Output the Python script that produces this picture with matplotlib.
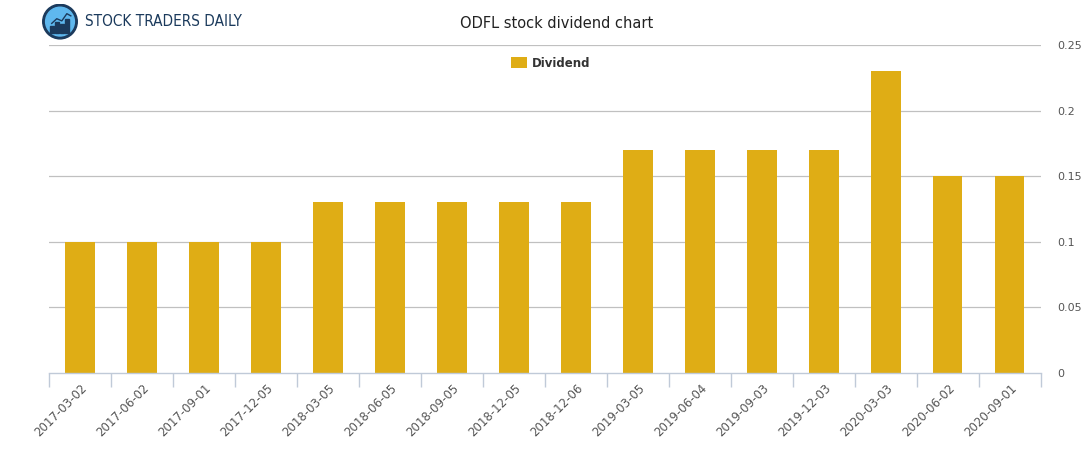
import matplotlib
matplotlib.use("Agg")
import matplotlib.pyplot as plt
from matplotlib.patches import Circle, Rectangle

# dates de paiement et montants
dates = ["2017-03-02", "2017-06-02", "2017-09-01", "2017-12-05", "2018-03-05",
         "2018-06-05", "2018-09-05", "2018-12-05", "2018-12-06", "2019-03-05",
         "2019-06-04", "2019-09-03", "2019-12-03", "2020-03-03", "2020-06-02",
         "2020-09-01"]
dividend = [0.10, 0.10, 0.10, 0.10, 0.13, 0.13, 0.13, 0.13, 0.13, 0.17,
            0.17, 0.17, 0.17, 0.23, 0.15, 0.15]
yticks = [0, 0.05, 0.1, 0.15, 0.2, 0.25]
ytick_labels = ["0", "0.05", "0.1", "0.15", "0.2", "0.25"]

bar_color = "#DFAD15"
grid_color = "#C0C0C0"
axis_color = "#C0CAD8"
text_color = "#555555"

fig = plt.figure(figsize=(10.91, 4.5), dpi=100)
ax = fig.add_axes([0.0449, 0.171, 0.9092, 0.729])

x = list(range(len(dates)))
ax.bar(x, dividend, width=0.47, color=bar_color, label="Dividend", zorder=2)

ax.set_xlim(-0.5, len(dates) - 0.5)
ax.set_ylim(0, 0.25)

# axe y a droite
ax.yaxis.tick_right()
ax.set_yticks(yticks)
ax.set_yticklabels(ytick_labels, fontsize=8, color=text_color)
ax.tick_params(axis="y", length=0, pad=12)
for y in yticks[1:]:
    ax.axhline(y, color=grid_color, lw=0.9, zorder=1)

# ticks x aux frontieres des categories
ax.set_xticks([i - 0.5 for i in range(len(dates) + 1)])
ax.set_xticklabels([])
ax.set_xticks(x, minor=True)
ax.set_xticklabels(dates, minor=True, rotation=45, ha="right", va="top",
                   rotation_mode="anchor", fontsize=8.5, color=text_color)
ax.tick_params(axis="x", which="major", length=10, color=axis_color, width=1)
ax.tick_params(axis="x", which="minor", length=0, pad=6)

for s in ["top", "left", "right"]:
    ax.spines[s].set_visible(False)
ax.spines["bottom"].set_color(axis_color)
ax.spines["bottom"].set_linewidth(1)

leg = ax.legend(loc="upper center", bbox_to_anchor=(0.506, 0.997), frameon=False,
                handlelength=1.3, handleheight=1.0, handletextpad=0.45,
                prop={"weight": "bold", "size": 8.5})
for t in leg.get_texts():
    t.set_color("#333333")

fig.text(0.51, 0.948, "ODFL stock dividend chart", ha="center", va="center",
         fontsize=10.5, color="#222222")

# logo
logo = fig.add_axes([0.036, 0.912, 0.038, 0.08])
logo.set_xlim(0, 1)
logo.set_ylim(0, 1)
logo.set_aspect("equal")
logo.axis("off")
logo.add_patch(Circle((0.5, 0.5), 0.48, color="#1B3A5C"))
logo.add_patch(Circle((0.5, 0.5), 0.40, color="#5FB8EE"))
for bx, bh in [(0.22, 0.2), (0.36, 0.3), (0.5, 0.25), (0.64, 0.4)]:
    logo.add_patch(Rectangle((bx, 0.18), 0.1, bh, color="#1B3A5C"))
logo.plot([0.27, 0.41, 0.55, 0.69, 0.8], [0.45, 0.58, 0.52, 0.72, 0.66],
          color="#1B3A5C", lw=1)
fig.text(0.078, 0.952, "STOCK TRADERS DAILY", ha="left", va="center",
         fontsize=11, color="#1B3A5C", family="DejaVu Sans",
         stretch="condensed")

fig.savefig("out.png", dpi=100)
